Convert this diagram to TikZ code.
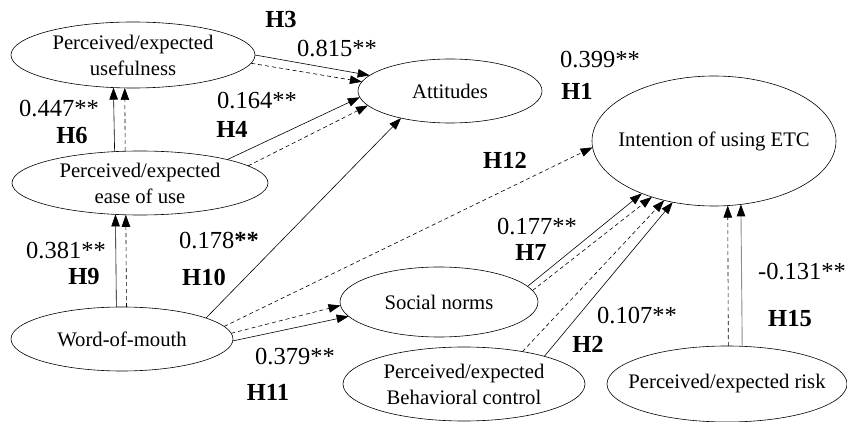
\documentclass[tikz,border=0pt]{standalone}
\usepackage{fontspec}
\setmainfont{Liberation Serif}
\usetikzlibrary{shapes.geometric,arrows.meta}
\begin{document}
\begin{tikzpicture}[x=1pt,y=-1pt,
 ell/.style={ellipse, draw, line width=0.6pt, inner xsep=-25pt, inner ysep=-5pt, outer sep=0pt, align=center, font=\fontsize{20.7}{26}\selectfont},
 lab/.style={font=\fontsize{24.5}{28}\selectfont, inner sep=0pt},
 hyp/.style={font=\fontsize{24.5}{28}\selectfont\bfseries, inner sep=0pt},
 sarr/.style={line width=0.6pt, -{Triangle[length=12pt,width=8.5pt]}},
 darr/.style={sarr, dash pattern=on 4pt off 3pt},
 garr/.style={line width=0.9pt, draw=black!45, -{Triangle[length=12pt,width=8.5pt,color=black]}},
]
\useasboundingbox (0,0) rectangle (847,422);

% constructs
\node[ell, minimum width=244pt, minimum height=66pt] (PU) at (133,55) {Perceived/expected\\usefulness};
\node[ell, minimum width=256pt, minimum height=64pt] (PEOU) at (140,183) {Perceived/expected\\ease of use};
\node[ell, minimum width=222pt, minimum height=64pt] (WOM) at (122,339) {Word-of-mouth};
\node[ell, minimum width=184pt, minimum height=64pt] (Att) at (450,91) {Attitudes};
\node[ell, minimum width=244pt, minimum height=130pt] (Int) at (714,141) {Intention of using ETC};
\node[ell, minimum width=198pt, minimum height=70pt] (SN) at (439,302) {Social norms};
\node[ell, minimum width=242pt, minimum height=74pt] (PBC) at (464,384) {Perceived/expected\\Behavioral control};
\node[ell, minimum width=240pt, minimum height=76pt] (Risk) at (727,384) {Perceived/expected risk};

% paths
\draw[sarr] (PU.0) -- (Att.169);
\draw[darr] (PU.-4) -- (Att.174);
\draw[sarr] (PEOU.129.7) -- (PU.239.8);
\draw[darr] (PEOU.115.3) -- (PU.256.3);
\draw[sarr] (PEOU.15) -- (Att.184);
\draw[darr] (PEOU.9.3) -- (Att.190);
\draw[sarr] (WOM.100.6) -- (PEOU.232.6);
\draw[darr] (WOM.82.9) -- (PEOU.246.2);
\draw[sarr] (WOM.14.8) -- (Att.209.4);
\draw[darr] (WOM.7.7) -- (Int.183.3);
\draw[darr] (WOM.3.7) -- (SN.182.4);
\draw[sarr] (WOM.-1.5) -- (SN.189.7);
\draw[sarr] (SN.10.9) -- (Int.216.2);
\draw[darr] (SN.7.9) -- (Int.222.1);
\draw[darr] (PBC.29.1) -- (Int.230.1);
\draw[sarr] (PBC.19.4) -- (Int.236.5);
\draw[darr] (Risk.88.5) -- (Int.282.2);
\draw[garr] (Risk.68.3) -- (Int.293.9);

% coefficients and hypotheses
\node[hyp] (h3) at (281,20) {H3};
\node[lab] (c3) at (337,49) {0.815**};
\node[lab] (c1) at (600,60) {0.399**};
\node[hyp] (h1) at (577,91) {H1};
\node[lab] (c4) at (257,101) {0.164**};
\node[hyp] (h4) at (232,129) {H4};
\node[lab] (c6) at (59,109) {0.447**};
\node[hyp] (h6) at (72,136) {H6};
\node[hyp] (h12) at (505,160) {H12};
\node[lab] (c10) at (219,241) {0.178\textbf{**}};
\node[hyp] (h10) at (204,277) {H10};
\node[lab] (c9) at (66,251) {0.381**};
\node[hyp] (h9) at (84,277) {H9};
\node[lab] (c11) at (295,357) {0.379**};
\node[hyp] (h11) at (268,392) {H11};
\node[lab] (c7) at (537,227) {0.177**};
\node[hyp] (h7) at (531,252) {H7};
\node[lab] (c2) at (637,316) {0.107**};
\node[hyp] (h2) at (588,344) {H2};
\node[lab] (c15) at (802,272) {-0.131**};
\node[hyp] (h15) at (790,319) {H15};
\end{tikzpicture}
\end{document}
